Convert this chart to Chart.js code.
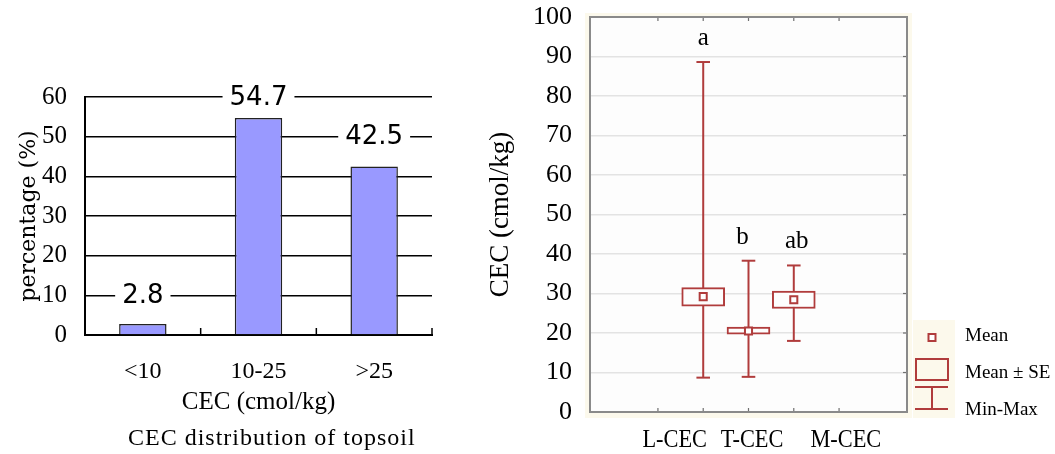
<!DOCTYPE html>
<html>
<head>
<meta charset="utf-8">
<script src="https://cdn.jsdelivr.net/npm/chart.js@4.4.1/dist/chart.umd.min.js"></script>
<style>
    html, body { margin: 0; padding: 0; background: #fff; }
    #wrap { position: relative; width: 1055px; height: 454px; overflow: hidden; }
    #left { position: absolute; left: 0; top: 0; width: 470px; height: 454px; }
    #right { position: absolute; left: 470px; top: 0; width: 585px; height: 454px; }
    #caption { position: absolute; left: 128px; top: 424px; font: 24px 'Liberation Serif'; letter-spacing: 1px; white-space: nowrap; color: #000; }
</style>
</head>
<body>
<div id="wrap">
    <div id="left"><canvas id="distChart"></canvas></div>
    <div id="right"><canvas id="cecChart"></canvas></div>
    <div id="caption">CEC distribution of topsoil</div>
</div>
<script>
// ── data: CEC distribution (left) ──
const distCats = ['<10', '10-25', '>25'];
const distPct = [2.8, 54.7, 42.5];

// ── data: CEC by group (right) ──
const cecGroups = ['L-CEC', 'T-CEC', 'M-CEC'];
const cecPos = [2, 3, 4];
const cecMean = [29.2, 20.5, 28.4];
const cecSeLow = [26.8, 19.7, 26.2];
const cecSeHigh = [31.5, 21.5, 30.6];
const cecMin = [8.7, 8.9, 18.0];
const cecMax = [88.6, 38.3, 37.1];
const cecLetters = ['a', 'b', 'ab'];

const RED = '#b03c3c';
const SERIF = 'Liberation Serif';

// ──────────────────────────────────────────────
// LEFT: bar chart
// ──────────────────────────────────────────────
// value labels sit on the first gridline above each bar, with a white gap
const barLabels = {
    id: 'barLabels',
    afterDatasetsDraw(chart) {
        const { ctx, scales: { y } } = chart;
        const meta = chart.getDatasetMeta(0);
        ctx.save();
        ctx.font = '26px "DejaVu Sans"';
        ctx.textAlign = 'center';
        ctx.textBaseline = 'middle';
        meta.data.forEach((bar, i) => {
            const v = distPct[i];
            const gy = y.getPixelForValue(Math.ceil((v + 3) / 10) * 10);
            const txt = v.toFixed(1);
            const w = ctx.measureText(txt).width + 14;
            ctx.fillStyle = '#fff';
            ctx.fillRect(bar.x - w / 2, gy - 4, w, 8);
            ctx.fillStyle = '#000';
            ctx.fillText(txt, bar.x, gy + 1);
        });
        ctx.restore();
    }
};

// small upward tick marks between categories
const catTicks = {
    id: 'catTicks',
    afterDraw(chart) {
        const { ctx, chartArea: a, scales: { x } } = chart;
        ctx.save();
        ctx.strokeStyle = '#000';
        ctx.lineWidth = 1.5;
        for (let i = 0; i < distCats.length; i++) {
            const px = i < distCats.length - 1
                ? (x.getPixelForValue(i) + x.getPixelForValue(i + 1)) / 2
                : a.right;
            ctx.beginPath();
            ctx.moveTo(px, a.bottom);
            ctx.lineTo(px, a.bottom - 7);
            ctx.stroke();
        }
        ctx.restore();
    }
};

new Chart(document.getElementById('distChart'), {
    type: 'bar',
    data: {
        labels: distCats,
        datasets: [{
            data: distPct,
            backgroundColor: '#9999ff',
            borderColor: '#222',
            borderWidth: 1.5,
            categoryPercentage: 1,
            barPercentage: 0.41
        }]
    },
    options: {
        responsive: true,
        maintainAspectRatio: false,
        animation: false,
        layout: { padding: { left: 12, right: 38, top: 97, bottom: 33 } },
        plugins: { legend: { display: false }, tooltip: { enabled: false } },
        scales: {
            x: {
                grid: { display: false },
                border: { color: '#000', width: 2 },
                ticks: { color: '#000', font: { family: SERIF, size: 24 }, padding: 14 },
                title: { display: true, text: 'CEC (cmol/kg)', color: '#000', font: { family: SERIF, size: 25 } },
                afterFit: s => { s.height = 86; }
            },
            y: {
                min: 0,
                max: 60,
                ticks: { stepSize: 10, color: '#000', font: { family: SERIF, size: 25 }, padding: 18 },
                grid: { color: '#000', lineWidth: 1.5, drawTicks: false },
                border: { color: '#000', width: 2 },
                title: { display: true, text: 'percentage (%)', color: '#000', font: { family: 'DejaVu Serif', size: 22 } },
                afterFit: s => { s.width = 73; }
            }
        }
    },
    plugins: [barLabels, catTicks]
});

// ──────────────────────────────────────────────
// RIGHT: mean / SE / min-max plot
// ──────────────────────────────────────────────
const capHalf = 0.15;
const datasets = [];

cecPos.forEach((p, i) => {
    const segs = [
        [{ x: p, y: cecMin[i] }, { x: p, y: cecMax[i] }],
        [{ x: p - capHalf, y: cecMax[i] }, { x: p + capHalf, y: cecMax[i] }],
        [{ x: p - capHalf, y: cecMin[i] }, { x: p + capHalf, y: cecMin[i] }]
    ];
    segs.forEach(s => datasets.push({
        type: 'line', data: s, borderColor: RED, borderWidth: 2,
        pointRadius: 0, fill: false, order: 3
    }));
});

datasets.push({
    type: 'bar',
    data: cecPos.map((p, i) => ({ x: p, y: [cecSeLow[i], cecSeHigh[i]] })),
    backgroundColor: '#fdfdfd',
    borderColor: RED,
    borderWidth: 2,
    borderSkipped: false,
    barThickness: 43,
    order: 2
});

datasets.push({
    type: 'scatter',
    data: cecPos.map((p, i) => ({ x: p, y: cecMean[i] })),
    pointStyle: 'rect',
    pointRadius: 5,
    borderColor: RED,
    borderWidth: 2,
    backgroundColor: '#fff',
    order: 1
});

// beige margin, plot background, frame and inward ticks
const frame = {
    id: 'frame',
    beforeDraw(chart) {
        const { ctx, chartArea: a } = chart;
        ctx.save();
        ctx.fillStyle = '#fcf9ec';
        ctx.fillRect(a.left - 5, a.top - 4, a.width + 10, a.height + 10);
        ctx.fillStyle = '#fdfdfd';
        ctx.fillRect(a.left, a.top, a.width, a.height);
        ctx.restore();
    },
    afterDraw(chart) {
        const { ctx, chartArea: a, scales: { x, y } } = chart;
        ctx.save();
        ctx.strokeStyle = '#707070';
        ctx.lineWidth = 1.2;
        for (let v = 1; v < 6; v++) {
            const px = x.getPixelForValue(v);
            ctx.beginPath();
            ctx.moveTo(px, a.top); ctx.lineTo(px, a.top + 4);
            ctx.moveTo(px, a.bottom); ctx.lineTo(px, a.bottom - 4);
            ctx.stroke();
        }
        for (let v = 10; v < 100; v += 10) {
            const py = y.getPixelForValue(v);
            ctx.beginPath();
            ctx.moveTo(a.right, py); ctx.lineTo(a.right - 4, py);
            ctx.stroke();
        }
        ctx.strokeStyle = '#8a8a8a';
        ctx.lineWidth = 2;
        ctx.strokeRect(a.left, a.top, a.width, a.height);
        ctx.restore();
    }
};

// significance letters, group labels, legend
const xLabelPos = [1.37, 3.08, 5.15];
const letterShift = [0, -6, 3];

const annotations = {
    id: 'annotations',
    afterDraw(chart) {
        const { ctx, chartArea: a, scales: { x, y } } = chart;
        ctx.save();
        ctx.fillStyle = '#000';
        ctx.textAlign = 'center';

        ctx.font = `25px "${SERIF}"`;
        ctx.textBaseline = 'alphabetic';
        cecLetters.forEach((t, i) => {
            ctx.fillText(t, x.getPixelForValue(cecPos[i]) + letterShift[i], y.getPixelForValue(cecMax[i]) - 17);
        });

        // group labels, slightly condensed like the original face
        ctx.font = `26px "${SERIF}"`;
        ctx.textBaseline = 'middle';
        cecGroups.forEach((t, i) => {
            ctx.save();
            ctx.translate(x.getPixelForValue(xLabelPos[i]), a.bottom + 28);
            ctx.scale(0.86, 1);
            ctx.fillText(t, 0, 0);
            ctx.restore();
        });

        // legend
        const lx = a.right + 6, lb = a.bottom + 6;
        ctx.fillStyle = '#fcf9ec';
        ctx.fillRect(lx, lb - 98, 42, 98);
        ctx.strokeStyle = RED;
        ctx.lineWidth = 2;
        const cx = lx + 19;
        ctx.fillStyle = '#fff';
        ctx.fillRect(cx - 3.5, lb - 84, 7, 7);
        ctx.strokeRect(cx - 3.5, lb - 84, 7, 7);
        ctx.strokeRect(lx + 3, lb - 59, 32, 21);
        ctx.beginPath();
        ctx.moveTo(lx + 2, lb - 31); ctx.lineTo(lx + 35, lb - 31);
        ctx.moveTo(cx, lb - 31); ctx.lineTo(cx, lb - 9);
        ctx.moveTo(lx + 2, lb - 9); ctx.lineTo(lx + 35, lb - 9);
        ctx.stroke();

        ctx.fillStyle = '#000';
        ctx.font = `19px "${SERIF}"`;
        ctx.textAlign = 'left';
        ctx.fillText('Mean', lx + 52, lb - 82);
        ctx.fillText('Mean \u00b1 SE', lx + 52, lb - 45);
        ctx.fillText('Min-Max', lx + 52, lb - 8);
        ctx.restore();
    }
};

new Chart(document.getElementById('cecChart'), {
    type: 'scatter',
    data: { datasets },
    options: {
        responsive: true,
        maintainAspectRatio: false,
        animation: false,
        layout: { padding: { left: 11, right: 148, top: 17, bottom: 0 } },
        plugins: { legend: { display: false }, tooltip: { enabled: false } },
        scales: {
            x: {
                type: 'linear',
                min: 0,
                max: 6,
                ticks: { display: false, stepSize: 1 },
                grid: { display: false },
                border: { display: false },
                afterFit: s => { s.height = 42; }
            },
            y: {
                min: 0,
                max: 100,
                // gap to the labels comes from an invisible tick mark so it adds no top padding
                ticks: { stepSize: 10, color: '#000', font: { family: SERIF, size: 26 }, padding: 0 },
                grid: { color: '#e3e3e3', lineWidth: 1.5, drawTicks: true, tickLength: 18, tickColor: 'rgba(0,0,0,0)' },
                border: { display: false },
                title: { display: true, text: 'CEC (cmol/kg)', color: '#000', font: { family: SERIF, size: 27 } },
                afterFit: s => { s.width = 109; }
            }
        }
    },
    plugins: [frame, annotations]
});
</script>
</body>
</html>
